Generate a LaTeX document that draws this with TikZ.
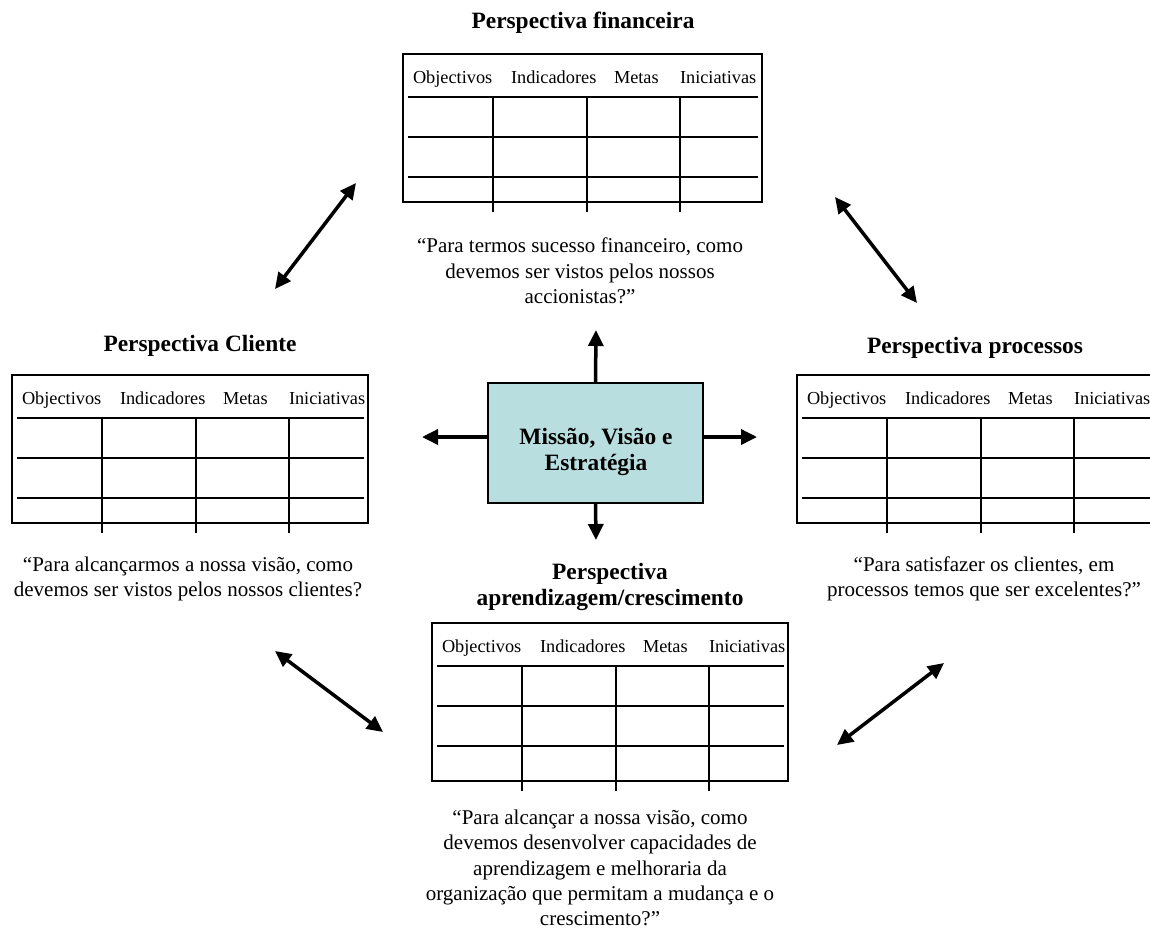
\documentclass[tikz,border=0pt]{standalone}
\usepackage{fontspec}
\setmainfont{Liberation Serif}
\usetikzlibrary{arrows.meta}
\definecolor{corebox}{RGB}{185,222,224}
\tikzset{
  every node/.style={inner sep=0pt, outer sep=0pt},
  frame/.style={draw, line width=2pt},
  rule/.style={line width=2pt},
  title/.style={font=\fontsize{23.4}{26}\selectfont\bfseries, align=center},
  quote/.style={font=\fontsize{21}{25.3}\selectfont, align=center},
  head/.style={font=\fontsize{18.3}{22}\selectfont, anchor=base west},
  link/.style={line width=3.5pt, {Triangle[length=16pt,width=15pt]}-{Triangle[length=16pt,width=15pt]}},
  push/.style={line width=3.5pt, -{Triangle[length=16pt,width=15pt]}},
}
% scorecard grid: name, left, top, width, height
\newcommand\scoretable[5]{%
  \node[frame, minimum width=#4pt, minimum height=#5pt, anchor=north west] (#1) at (#2,#3) {};
  \foreach \r in {43,83,123}
    \draw[rule] ([shift={(5,\r)}]#1.north west) -- ([shift={(-4,\r)}]#1.north east);
  \foreach \c in {90,184,277}
    \draw[rule] ([shift={(\c,43)}]#1.north west) -- ++(0,#5-33);
  \node[head] (#1-obj) at ([shift={(10,29)}]#1.north west) {Objectivos};
  \node[head] (#1-ind) at ([shift={(108,29)}]#1.north west) {Indicadores};
  \node[head] (#1-met) at ([shift={(211,29)}]#1.north west) {Metas};
  \node[head] (#1-ini) at ([shift={(277,29)}]#1.north west) {Iniciativas};
}
\begin{document}
\begin{tikzpicture}[x=1pt, y=-1pt]
\clip (0,0) rectangle (1150,930);
\fill[white] (0,0) rectangle (1150,930);

% financial perspective
\node[title] (tfin) at (583,23) {Perspectiva financeira};
\scoretable{fin}{403}{54}{359}{148}
\node[quote] (qfin) at (580,271) {“Para termos sucesso financeiro, como\\devemos ser vistos pelos nossos\\accionistas?”};

% customer perspective
\node[title] (tcli) at (200,346) {Perspectiva Cliente};
\scoretable{cli}{12}{375}{356}{148}
\node[quote] (qcli) at (188,579) {“Para alcançarmos a nossa visão, como\\devemos ser vistos pelos nossos clientes?};

% process perspective
\node[title] (tpro) at (975,348) {Perspectiva processos};
\scoretable{pro}{797}{375}{359}{148}
\node[quote] (qpro) at (984,579) {“Para satisfazer os clientes, em\\processos temos que ser excelentes?”};

% learning and growth perspective
\node[title] (tapr) at (610,587) {Perspectiva\\aprendizagem/crescimento};
\scoretable{apr}{432}{623}{356}{158}
\node[quote] (qapr) at (600,868) {“Para alcançar a nossa visão, como\\devemos desenvolver capacidades de\\aprendizagem e melhoraria da\\organização que permitam a mudança e o\\crescimento?”};

% mission, vision and strategy
\node[frame, fill=corebox, minimum width=215pt, minimum height=120pt, anchor=north west] (core) at (488,383) {};
\node[title] (coretext) at (596,452) {Missão, Visão e\\Estratégia};

% arrows out of the core
\coordinate (upTip) at (596,330);
\coordinate (downTip) at (596,540);
\coordinate (leftTip) at (422,437);
\coordinate (rightTip) at (757,437);
\draw[push] (core.north) -- (upTip);
\draw[push] (core.south) -- (downTip);
\draw[push] ([yshift=6pt]core.west) -- (leftTip);
\draw[push] ([yshift=6pt]core.east) -- (rightTip);

% links between perspectives
\coordinate (ulA) at (275,289); \coordinate (ulB) at (356,183);
\coordinate (urA) at (835,197); \coordinate (urB) at (917,303);
\coordinate (llA) at (275,651); \coordinate (llB) at (383,732);
\coordinate (lrA) at (837,745); \coordinate (lrB) at (944,663);
\draw[link] (ulA) -- (ulB);
\draw[link] (urA) -- (urB);
\draw[link] (llA) -- (llB);
\draw[link] (lrA) -- (lrB);
\end{tikzpicture}
\end{document}
